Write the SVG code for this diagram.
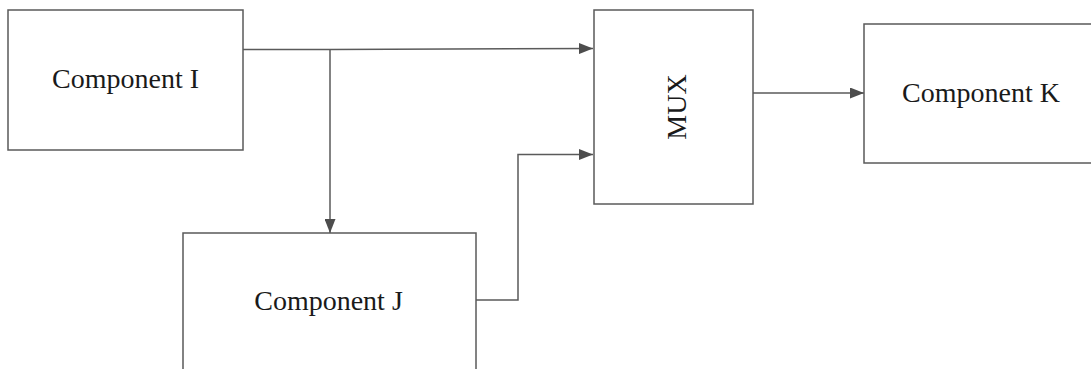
<svg xmlns="http://www.w3.org/2000/svg" width="1091" height="369" viewBox="0 0 1091 369">
<style>
.box{fill:#fff;stroke:#5a5a5a;stroke-width:1.5}
.lbl{font-family:"Liberation Serif","Times New Roman",serif;font-size:28px;fill:#1a1a1a}
.wire{fill:none;stroke:#5a5a5a;stroke-width:1.5}
</style>
<defs>
<marker id="arr" markerUnits="userSpaceOnUse" markerWidth="14" markerHeight="11" refX="14" refY="5.5" orient="auto">
<path d="M0,0 L14,5.5 L0,11 z" fill="#4d4d4d"/>
</marker>
</defs>
<rect width="1091" height="369" fill="#fff"/>
<g id="connectors">
<polyline class="wire" points="243,49.5 330,49.5 593,48.5" marker-end="url(#arr)"/>
<polyline class="wire" points="330,49.5 330,233" marker-end="url(#arr)"/>
<polyline class="wire" points="476,300 518,300 518,154.5 593,154.5" marker-end="url(#arr)"/>
<polyline class="wire" points="753,93 864,93" marker-end="url(#arr)"/>
</g>
<g id="componentI">
<rect class="box" x="8" y="10" width="235" height="140"/>
<text class="lbl" x="125.5" y="88" text-anchor="middle">Component I</text>
</g>
<g id="componentJ">
<rect class="box" x="183" y="233" width="293" height="150"/>
<text class="lbl" x="328.5" y="310" text-anchor="middle">Component J</text>
</g>
<g id="mux">
<rect class="box" x="594" y="10" width="159" height="194"/>
<text class="lbl" x="0" y="0" text-anchor="middle" transform="translate(686,107) rotate(-90)">MUX</text>
</g>
<g id="componentK">
<rect class="box" x="864" y="24" width="240" height="139"/>
<text class="lbl" x="981" y="101.5" text-anchor="middle">Component K</text>
</g>
</svg>
